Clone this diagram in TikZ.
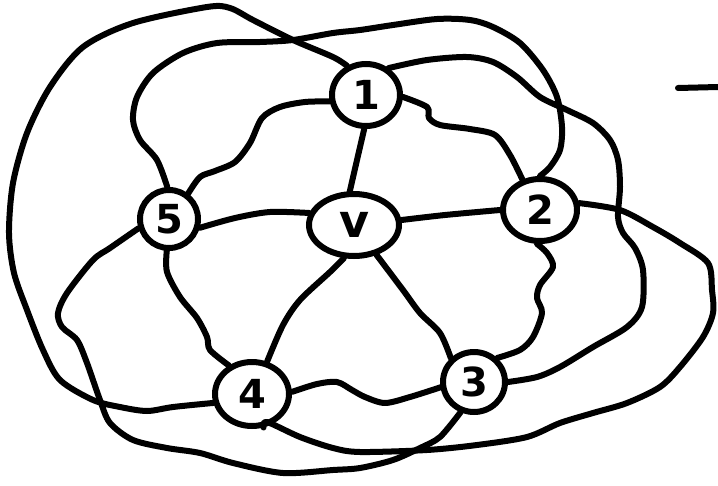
\documentclass[tikz,border=0pt]{standalone}
\usepackage{fontspec}
\setmainfont{DejaVu Sans}
\usetikzlibrary{shapes.geometric}
\begin{document}
\begin{tikzpicture}[x=1pt,y=-1pt,
  vtx/.style={ellipse,draw,line width=6pt,inner sep=0pt,font=\fontsize{40}{40}\selectfont\bfseries},
  edge/.style={draw,line width=6pt,line cap=round,line join=round}]
\useasboundingbox (0,0) rectangle (718,485);
% vertices
\node[vtx,minimum width=68pt,minimum height=62pt] (n1) at (366,95) {1};
\node[vtx,minimum width=90pt,minimum height=62pt,font=\fontsize{46}{46}\selectfont\bfseries] (v) at (354,225) {v};
\node[vtx,minimum width=58pt,minimum height=58pt] (n5) at (169,219) {5};
\node[vtx,minimum width=74pt,minimum height=62pt] (n2) at (540,210) {2};
\node[vtx,minimum width=74pt,minimum height=64pt] (n4) at (252,394) {4};
\node[vtx,minimum width=62pt,minimum height=60pt] (n3) at (474,382) {3};
% spokes from v
\draw[edge] plot[smooth] coordinates {(n1.267) (357,160) (v.97)};
\draw[edge] plot[smooth] coordinates {(n5.344) (235,218) (270,212) (v.165)};
\draw[edge] plot[smooth] coordinates {(v.6) (445,215) (n2.180)};
\draw[edge] plot[smooth] coordinates {(v.253) (330,272) (300,300) (283,325) (n4.65)};
\draw[edge] plot[smooth] coordinates {(v.307) (403,290) (420,313) (440,333) (n3.134)};
% inner ring
\draw[edge] plot[smooth] coordinates {(n5.53) (200,177) (215,171) (235,162) (250,143) (262,118) (280,107) (305,102) (n1.190)};
\draw[edge] plot[smooth] coordinates {(n1.357) (427,107) (429,118) (440,125) (470,129) (495,135) (510,155) (n2.120)};
\draw[edge] plot[smooth] coordinates {(n5.266) (167,272) (180,297) (197,318) (207,337) (210,350) (n4.129)};
\draw[edge] plot[smooth] coordinates {(n4.3) (317,384) (337,382) (352,390) (365,397) (385,403) (410,397) (n3.189)};
\draw[edge] plot[smooth] coordinates {(n3.46) (520,350) (533,337) (542,313) (537,298) (540,285) (553,267) (547,253) (n2.265)};
% outer curves
\draw[edge] plot[smooth] coordinates {(n1.123) (333,57) (293,40) (253,20) (230,8) (207,7) (133,23) (83,47) (50,87) (27,133) (13,183) (9,233) (14,273) (27,310) (43,350) (60,380) (93,400) (120,407) (147,411) (173,407) (n4.193)};
\draw[edge] plot[smooth] coordinates {(n5.93) (157,160) (140,140) (133,120) (137,97) (153,73) (183,53) (217,43) (260,42) (293,40) (333,33) (360,30) (393,25) (437,19) (470,20) (493,27) (520,43) (543,70) (557,97) (562,127) (560,150) (550,167) (n2.90)};
\draw[edge] plot[smooth] coordinates {(n1.50) (427,60) (467,57) (493,62) (517,77) (540,97) (567,110) (593,123) (610,140) (618,160) (620,187) (618,217) (623,233) (635,248) (643,270) (642,307) (627,327) (593,347) (560,367) (537,377) (n3.0)};
\draw[edge] plot[smooth] coordinates {(n2.10) (620,210) (653,227) (680,243) (708,263) (712,290) (713,313) (703,337) (680,367) (660,387) (627,403) (593,413) (560,423) (527,437) (477,445) (427,450) (360,452) (333,448) (300,437) (267,422) (n4.289)};
\draw[edge] plot[smooth] coordinates {(n5.197) (110,248) (93,260) (67,293) (58,313) (62,327) (77,340) (87,363) (100,400) (110,423) (133,440) (167,448) (200,453) (233,463) (283,473) (333,470) (360,468) (393,460) (420,448) (440,437) (n3.246)};
% dash at the right
\coordinate (d1) at (678,88);
\coordinate (d2) at (718,87);
\draw[edge] (d1) -- (d2);
\end{tikzpicture}
\end{document}
